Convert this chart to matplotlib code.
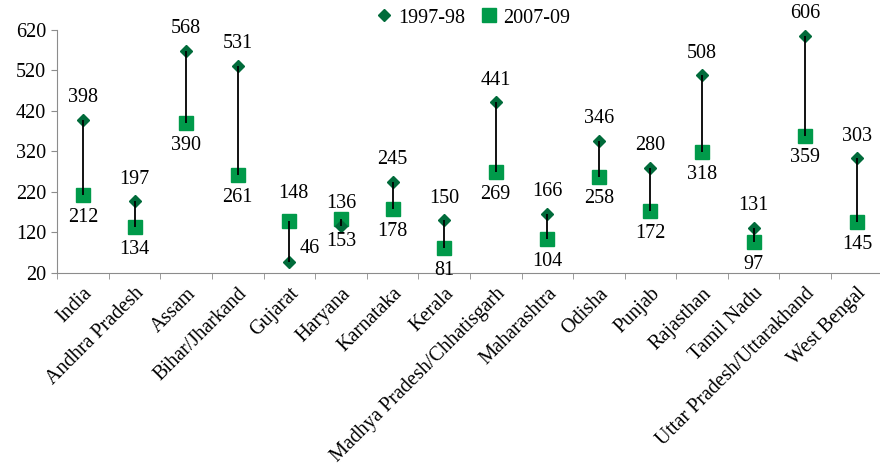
import matplotlib.pyplot as plt
from matplotlib.lines import Line2D
import numpy as np

plt.rcParams['font.family'] = ['Liberation Serif', 'DejaVu Serif']

states = ['India', 'Andhra Pradesh', 'Assam', 'Bihar/Jharkand', 'Gujarat',
          'Haryana', 'Karnataka', 'Kerala', 'Madhya Pradesh/Chhatisgarh',
          'Maharashtra', 'Odisha', 'Punjab', 'Rajasthan', 'Tamil Nadu',
          'Uttar Pradesh/Uttarakhand', 'West Bengal']
mmr_1997 = [398, 197, 568, 531, 46, 136, 245, 150, 441, 166, 346, 280, 508, 131, 606, 303]
mmr_2007 = [212, 134, 390, 261, 148, 153, 178, 81, 269, 104, 258, 172, 318, 97, 359, 145]
yticks = [20, 120, 220, 320, 420, 520, 620]

dark_green = '#006B3A'
light_green = '#009A4A'
axis_grey = '#8C8C8C'
fs = 14.5

fig = plt.figure(figsize=(8.8, 4.73), dpi=100)
ax = fig.add_axes([0.065, 0.4228, 0.938, 0.514])

x = np.arange(len(states))
ax.plot(x, mmr_2007, 's', color=light_green, markersize=10.5, zorder=2, label='2007-09')
ax.plot(x, mmr_1997, 'D', color=dark_green, markersize=6.5, zorder=3, label='1997-98')
ax.vlines(x, mmr_2007, mmr_1997, color='black', linewidth=1.3, zorder=4)

for i in range(len(states)):
    top_off = (0, 16)
    bot_off = (0, -16)
    if states[i] == 'Gujarat':
        # labels moved off the connector line
        top_off = (15, 10)
        bot_off = (3, 20)
    ax.annotate(str(mmr_1997[i]), (x[i], mmr_1997[i]), xytext=top_off,
                textcoords='offset points', ha='center', va='center', fontsize=fs)
    ax.annotate(str(mmr_2007[i]), (x[i], mmr_2007[i]), xytext=bot_off,
                textcoords='offset points', ha='center', va='center', fontsize=fs)

ax.set_xlim(-0.5, len(states) - 0.5)
ax.set_ylim(20, 620)
ax.set_yticks(yticks)
ax.set_xticks(x)
ax.set_xticklabels(states, rotation=45, ha='right', va='top', rotation_mode='anchor', fontsize=fs)
ax.set_xticks(np.arange(-0.5, len(states), 1), minor=True)
ax.tick_params(axis='x', which='major', length=0, pad=8)
ax.tick_params(axis='x', which='minor', length=4, color=axis_grey, direction='out')
ax.tick_params(axis='y', length=4, color=axis_grey, labelsize=fs, pad=4)

for side in ['top', 'right']:
    ax.spines[side].set_visible(False)
for side in ['left', 'bottom']:
    ax.spines[side].set_color(axis_grey)

handles = [Line2D([], [], marker='D', color=dark_green, linestyle='None', markersize=6.5),
           Line2D([], [], marker='s', color=light_green, linestyle='None', markersize=10.5)]
fig.legend(handles, ['1997-98', '2007-09'], loc='center', bbox_to_anchor=(0.535, 0.962),
           ncol=2, frameon=False, fontsize=fs, handletextpad=0.1, columnspacing=0.6,
           handlelength=1.2)

fig.savefig('out.png', dpi=100)
